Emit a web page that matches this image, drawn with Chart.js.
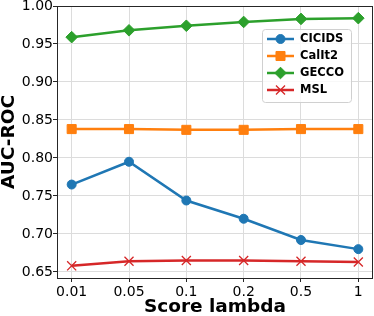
<!DOCTYPE html>
<html>
<head>
<meta charset="utf-8">
<script src="https://cdn.jsdelivr.net/npm/chart.js@4/dist/chart.umd.min.js"></script>
<style>
  html, body { margin: 0; padding: 0; background: #fff; }
  #wrap { width: 374px; height: 316px; }
</style>
</head>
<body>
<div id="wrap"><canvas id="chart" width="374" height="316"></canvas></div>
<script>
// data
var lambdas = ['0.01', '0.05', '0.1', '0.2', '0.5', '1'];
var cicids = [0.765, 0.795, 0.744, 0.720, 0.692, 0.680];
var calit2 = [0.838, 0.838, 0.837, 0.837, 0.838, 0.838];
var gecco  = [0.959, 0.968, 0.974, 0.979, 0.983, 0.984];
var msl    = [0.658, 0.664, 0.665, 0.665, 0.664, 0.663];
var yTicks = [0.65, 0.70, 0.75, 0.80, 0.85, 0.90, 0.95, 1.00];

var FONT = "'DejaVu Sans', sans-serif";

function pts(arr) {
    return arr.map(function(v, i) { return {x: i, y: v}; });
}

function series(label, arr, color, style, radius, bw) {
    return {
        label: label,
        data: pts(arr),
        borderColor: color,
        backgroundColor: color,
        borderWidth: 2.5,
        pointStyle: style,
        pointRadius: radius,
        pointHoverRadius: radius,
        pointBorderWidth: bw,
        pointBorderColor: color,
        pointBackgroundColor: color,
        tension: 0,
        clip: false
    };
}

// full box around the plot, like matplotlib spines
var frame = {
    id: 'frame',
    afterDatasetsDraw: function(chart) {
        var a = chart.chartArea, ctx = chart.ctx;
        ctx.save();
        ctx.strokeStyle = '#262626';
        ctx.lineWidth = 1;
        ctx.strokeRect(Math.round(a.left) + 0.5, Math.round(a.top) + 0.5,
            Math.round(a.right - a.left) - 1, Math.round(a.bottom - a.top));
        ctx.restore();
    }
};

// legend inside the plot (upper right area)
var innerLegend = {
    id: 'innerLegend',
    afterDraw: function(chart) {
        var ctx = chart.ctx;
        var x0 = 262, y0 = 29, w = 89, h = 73;
        ctx.save();
        ctx.beginPath();
        ctx.roundRect(x0 + 0.5, y0 + 0.5, w, h, 3);
        ctx.fillStyle = 'rgba(255,255,255,0.8)';
        ctx.fill();
        ctx.strokeStyle = '#d0d0d0';
        ctx.lineWidth = 1;
        ctx.stroke();
        chart.data.datasets.forEach(function(ds, i) {
            var y = 39 + i * 17;
            ctx.strokeStyle = ds.borderColor;
            ctx.lineWidth = 2.5;
            ctx.beginPath();
            ctx.moveTo(267, y);
            ctx.lineTo(294, y);
            ctx.stroke();
            ctx.fillStyle = ds.pointBackgroundColor;
            ctx.strokeStyle = ds.pointBorderColor;
            ctx.lineWidth = ds.pointBorderWidth;
            Chart.helpers.drawPoint(ctx, {
                pointStyle: ds.pointStyle,
                radius: ds.pointRadius,
                rotation: 0,
                borderWidth: ds.pointBorderWidth
            }, 280.5, y);
            ctx.fillStyle = '#000';
            ctx.font = "bold 11.5px " + FONT;
            ctx.textBaseline = 'middle';
            ctx.textAlign = 'left';
            ctx.fillText(ds.label, 300, y + 0.5);
        });
        ctx.restore();
    }
};

new Chart(document.getElementById('chart'), {
    type: 'line',
    data: {
        datasets: [
            series('CICIDS', cicids, '#1f77b4', 'circle', 4.5, 1),
            series('CalIt2', calit2, '#ff7f0e', 'rect', 6.4, 1),
            series('GECCO', gecco, '#2ca02c', 'rectRot', 5.8, 1),
            series('MSL', msl, '#d62728', 'crossRot', 6.4, 1.3)
        ]
    },
    options: {
        responsive: false,
        animation: false,
        events: [],
        layout: { autoPadding: false, padding: { top: 6, right: 1, left: 0, bottom: 0 } },
        plugins: {
            legend: { display: false },
            tooltip: { enabled: false }
        },
        scales: {
            x: {
                type: 'linear',
                min: -0.256,
                max: 5.256,
                afterBuildTicks: function(s) {
                    s.ticks = lambdas.map(function(_, i) { return {value: i}; });
                },
                afterFit: function(s) {
                    s.height = 38;
                    s.paddingLeft = 0;
                    s.paddingRight = 0;
                },
                ticks: {
                    callback: function(v) { return lambdas[v]; },
                    color: '#000',
                    font: { family: FONT, size: 14 },
                    padding: 2,
                    maxRotation: 0,
                    autoSkip: false
                },
                grid: { color: '#dcdcdc', lineWidth: 1, tickColor: '#262626', tickLength: 4 },
                border: { display: false },
                title: {
                    display: true,
                    text: 'Score lambda',
                    color: '#000',
                    font: { family: FONT, size: 18.5, weight: 'bold', lineHeight: 1 },
                    padding: 0
                }
            },
            y: {
                min: 0.642,
                max: 1.0,
                afterBuildTicks: function(s) {
                    s.ticks = yTicks.map(function(v) { return {value: v}; });
                },
                afterFit: function(s) {
                    s.width = 57;
                    s.paddingTop = 0;
                    s.paddingBottom = 0;
                },
                ticks: {
                    callback: function(v) { return v.toFixed(2); },
                    color: '#000',
                    font: { family: FONT, size: 14 },
                    padding: 0
                },
                grid: { color: '#dcdcdc', lineWidth: 1, tickColor: '#262626', tickLength: 4 },
                border: { display: false },
                title: {
                    display: true,
                    text: 'AUC-ROC',
                    color: '#000',
                    font: { family: FONT, size: 18.5, weight: 'bold', lineHeight: 1 },
                    padding: 0
                }
            }
        }
    },
    plugins: [frame, innerLegend]
});
</script>
</body>
</html>
